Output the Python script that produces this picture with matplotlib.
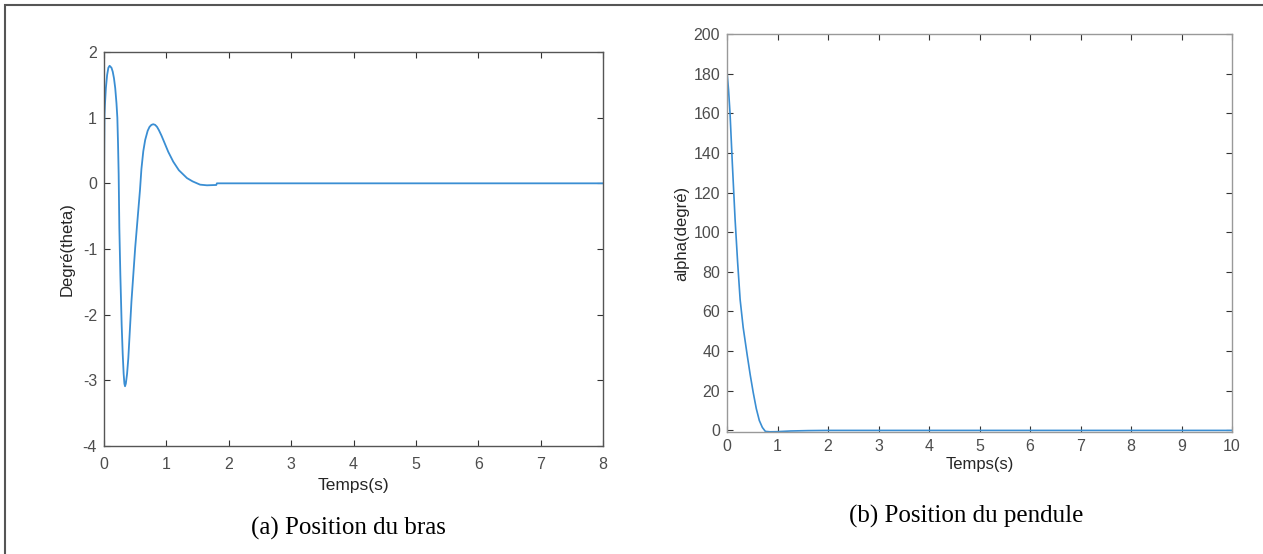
import matplotlib
matplotlib.use("Agg")
import matplotlib.pyplot as plt
from matplotlib.patches import Rectangle

plt.rcParams["axes.unicode_minus"] = False

# ---- data ----
theta_t = [0.0, 0.004, 0.008, 0.015, 0.03, 0.05, 0.07, 0.09, 0.11, 0.12, 0.14,
           0.16, 0.18, 0.20, 0.214, 0.225, 0.235, 0.246, 0.262, 0.283, 0.30,
           0.315, 0.327, 0.337, 0.35, 0.37, 0.39, 0.44, 0.50, 0.577, 0.60,
           0.63, 0.66, 0.70, 0.73, 0.76, 0.79, 0.82, 0.85, 0.88, 0.92, 0.96,
           1.03, 1.11, 1.2, 1.33, 1.42, 1.54, 1.65, 1.8, 1.81, 8.0]
theta_v = [0.0, 0.6, 1.05, 1.2, 1.45, 1.65, 1.76, 1.79, 1.77, 1.76, 1.70,
           1.60, 1.45, 1.22, 1.0, 0.6, 0.14, -0.68, -1.39, -2.15, -2.6,
           -2.9, -3.05, -3.09, -3.05, -2.9, -2.66, -1.8, -0.98, -0.1, 0.22,
           0.49, 0.66, 0.80, 0.86, 0.89, 0.90, 0.89, 0.86, 0.81, 0.73, 0.64,
           0.48, 0.33, 0.2, 0.08, 0.03, -0.02, -0.03, -0.025, 0.0, 0.0]

alpha_t = [0.0, 0.03, 0.06, 0.105, 0.16, 0.21, 0.26, 0.32, 0.40, 0.46, 0.52,
           0.58, 0.64, 0.70, 0.76, 0.85, 0.98, 1.25, 1.6, 2.0, 10.0]
alpha_v = [181, 172, 160, 135, 106.5, 85, 66, 52, 38, 28, 19,
           11, 5, 1.5, -0.5, -0.7, -0.65, -0.3, -0.1, 0.0, 0.0]

left_xticks = [0, 1, 2, 3, 4, 5, 6, 7, 8]
left_yticks = [-4, -3, -2, -1, 0, 1, 2]
right_xticks = [0, 1, 2, 3, 4, 5, 6, 7, 8, 9, 10]
right_yticks = [0, 20, 40, 60, 80, 100, 120, 140, 160, 180, 200]

W, H = 1263, 554
fig = plt.figure(figsize=(W / 100, H / 100), dpi=100)
fig.patch.set_facecolor("white")

line_color = "#3a8ed3"
tick_color = "#4d4d4d"
sans = "Liberation Sans"


def px_axes(x0, y0, x1, y1):
    return fig.add_axes([x0 / W, 1 - y1 / H, (x1 - x0) / W, (y1 - y0) / H])


def style(ax, spine_color, size, xpad):
    for s in ax.spines.values():
        s.set_color(spine_color)
        s.set_linewidth(1.0)
    ax.tick_params(direction="in", top=True, right=True, length=4,
                   width=0.8, color="#333333", labelsize=size,
                   labelcolor=tick_color, pad=5)
    ax.tick_params(axis="x", pad=xpad)
    for lab in ax.get_xticklabels() + ax.get_yticklabels():
        lab.set_family(sans)


# left panel
ax1 = px_axes(104, 52, 603, 446)
ax1.plot(theta_t, theta_v, color=line_color, lw=1.3)
ax1.set_xlim(0, 8)
ax1.set_ylim(-4, 2)
ax1.set_xticks(left_xticks)
ax1.set_yticks(left_yticks)
style(ax1, "#555555", 11.5, 8)
ax1.set_xlabel("Temps(s)", family=sans, fontsize=12.5, color="#262626", labelpad=4)
ax1.set_ylabel("Degré(theta)", family=sans, fontsize=12, color="#262626", labelpad=6)

# right panel
ax2 = px_axes(727, 34, 1232, 432)
ax2.plot(alpha_t, alpha_v, color=line_color, lw=1.2)
ax2.set_xlim(0, 10)
ax2.set_ylim(-0.8, 200)
ax2.set_xticks(right_xticks)
ax2.set_yticks(right_yticks)
style(ax2, "#999999", 11.5, 5)
ax2.set_xlabel("Temps(s)", family=sans, fontsize=12, color="#262626", labelpad=2)
ax2.set_ylabel("alpha(degré)", family=sans, fontsize=12, color="#262626", labelpad=3)

# captions
fig.text(446 / W, 1 - 528 / H, "(a) Position du bras", family="Liberation Serif",
         fontsize=18, ha="right", va="center", color="black")
fig.text(1083 / W, 1 - 516 / H, "(b) Position du pendule", family="Liberation Serif",
         fontsize=18, ha="right", va="center", color="black")

# outer frame (top and left edges visible)
fig.add_artist(Rectangle((5 / W, -0.1), 1.2, 1 - 5 / H + 0.1,
                         transform=fig.transFigure, fill=False,
                         edgecolor="#555555", linewidth=1.5))

fig.savefig("out.png", dpi=100, facecolor="white")
